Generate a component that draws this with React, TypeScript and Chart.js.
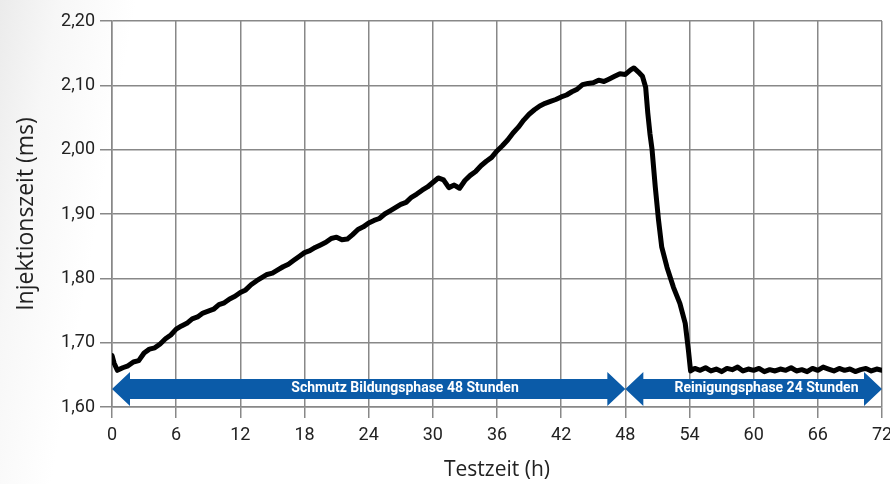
import React, { useEffect, useRef } from "react";
import { Chart, registerables } from "chart.js";

Chart.register(...registerables);

// Test time (h)
const hours: number[] = [
  0, 0.2, 0.5, 1, 1.5, 2, 2.5, 3, 3.5, 4, 4.5, 5, 5.5, 6, 6.5, 7, 7.5, 8, 8.5, 9, 9.5,
  10, 10.5, 11, 11.5, 12, 12.5, 13, 13.5, 14, 14.5, 15, 15.5, 16, 16.5, 17, 17.5, 18, 18.5, 19, 19.5,
  20, 20.5, 21, 21.5, 22, 22.5, 23, 23.5, 24, 24.5, 25, 25.5, 26, 26.5, 27, 27.5, 28, 28.5, 29, 29.5,
  30, 30.5, 31, 31.5, 32, 32.5, 33, 33.5, 34, 34.5, 35, 35.5, 36, 36.5, 37, 37.5, 38, 38.5, 39, 39.5,
  40, 40.5, 41, 41.5, 42, 42.5, 43, 43.5, 44, 44.5, 45, 45.5, 46, 46.5, 47, 47.5, 48, 48.5, 48.8,
  49.2, 49.6, 49.9, 50.1, 50.3, 50.5, 50.8, 51.1, 51.4, 51.9, 52.5, 53.1, 53.6, 53.9, 54.1, 54.5,
  55, 55.5, 56, 56.5, 57, 57.5, 58, 58.5, 59, 59.5, 60, 60.5, 61, 61.5, 62, 62.5, 63, 63.5, 64, 64.5,
  65, 65.5, 66, 66.5, 67, 67.5, 68, 68.5, 69, 69.5, 70, 70.5, 71, 71.5, 72,
];

// Injection time (ms)
const injectionTime: number[] = [
  1.680, 1.668, 1.657, 1.661, 1.664, 1.670, 1.672, 1.684, 1.690, 1.692, 1.698, 1.706, 1.712, 1.721, 1.726, 1.730, 1.737, 1.740, 1.746, 1.749, 1.752,
  1.759, 1.762, 1.768, 1.772, 1.778, 1.782, 1.790, 1.796, 1.801, 1.806, 1.808, 1.813, 1.818, 1.822, 1.828, 1.834, 1.840, 1.843, 1.848, 1.852,
  1.856, 1.862, 1.864, 1.860, 1.861, 1.868, 1.876, 1.880, 1.886, 1.890, 1.893, 1.900, 1.905, 1.910, 1.915, 1.918, 1.926, 1.931, 1.937, 1.942,
  1.949, 1.956, 1.953, 1.941, 1.945, 1.940, 1.952, 1.960, 1.966, 1.975, 1.982, 1.988, 1.998, 2.006, 2.015, 2.026, 2.035, 2.046, 2.055, 2.062,
  2.068, 2.072, 2.075, 2.078, 2.082, 2.085, 2.090, 2.094, 2.101, 2.103, 2.104, 2.108, 2.106, 2.110, 2.114, 2.118, 2.117, 2.124, 2.127,
  2.121, 2.114, 2.097, 2.057, 2.025, 2.000, 1.942, 1.891, 1.849, 1.817, 1.786, 1.761, 1.730, 1.688, 1.656, 1.660,
  1.657, 1.661, 1.656, 1.659, 1.655, 1.660, 1.658, 1.662, 1.656, 1.659, 1.657, 1.660, 1.655, 1.658, 1.656, 1.659, 1.657, 1.661, 1.656, 1.658,
  1.655, 1.660, 1.657, 1.662, 1.659, 1.656, 1.660, 1.657, 1.659, 1.655, 1.658, 1.660, 1.656, 1.659, 1.657,
];

// Phases shown as double arrows
const phaseStart: number[] = [0, 48];
const phaseEnd: number[] = [48, 72];
const phaseLabelAt: number[] = [27.4, 61.2];
const phaseLabels: string[] = ["Schmutz Bildungsphase 48 Stunden", "Reinigungsphase 24 Stunden"];
const phaseLevel = 1.628;

const xTicks = { min: 0, max: 72, step: 6 };
const yTicks = { min: 1.6, max: 2.2, step: 0.1 };

const arrowPlugin = {
  id: "phaseArrows",
  beforeDatasetsDraw(chart: any) {
    const { ctx, scales } = chart;
    const xs = scales.x;
    const ys = scales.y;
    const cy = ys.getPixelForValue(phaseLevel);
    const barH = 10;
    const headH = 17;
    const headL = 18;
    ctx.save();
    ctx.fillStyle = "#0b5ba8";
    for (let i = 0; i < phaseStart.length; i++) {
      const x0 = xs.getPixelForValue(phaseStart[i]);
      const x1 = xs.getPixelForValue(phaseEnd[i]);
      ctx.beginPath();
      ctx.moveTo(x0, cy);
      ctx.lineTo(x0 + headL, cy - headH);
      ctx.lineTo(x0 + headL, cy - barH);
      ctx.lineTo(x1 - headL, cy - barH);
      ctx.lineTo(x1 - headL, cy - headH);
      ctx.lineTo(x1, cy);
      ctx.lineTo(x1 - headL, cy + headH);
      ctx.lineTo(x1 - headL, cy + barH);
      ctx.lineTo(x0 + headL, cy + barH);
      ctx.lineTo(x0 + headL, cy + headH);
      ctx.closePath();
      ctx.fill();
    }
    ctx.fillStyle = "#ffffff";
    ctx.font = "bold 14px Roboto";
    ctx.textAlign = "center";
    ctx.textBaseline = "middle";
    for (let i = 0; i < phaseLabels.length; i++) {
      ctx.fillText(phaseLabels[i], xs.getPixelForValue(phaseLabelAt[i]), cy);
    }
    ctx.restore();
  },
};

export default function App() {
  const ref = useRef<HTMLCanvasElement | null>(null);

  useEffect(() => {
    if (!ref.current) return;
    const data = hours.map((h, i) => ({ x: h, y: injectionTime[i] }));
    const chart = new Chart(ref.current, {
      type: "line",
      data: {
        datasets: [
          {
            data,
            borderColor: "#000000",
            borderWidth: 5,
            pointRadius: 0,
            tension: 0,
            fill: false,
            borderJoinStyle: "round",
            borderCapStyle: "round",
          },
        ],
      },
      options: {
        responsive: false,
        animation: false,
        layout: { padding: { top: 21, right: 8, left: 0, bottom: 0 } },
        plugins: { legend: { display: false }, tooltip: { enabled: false } },
        scales: {
          x: {
            type: "linear",
            min: xTicks.min,
            max: xTicks.max,
            ticks: {
              stepSize: xTicks.step,
              color: "#222",
              font: { family: "Roboto", size: 18 },
              padding: 7,
              maxRotation: 0,
            },
            grid: { color: "#888", lineWidth: 1.5, tickLength: 11, tickColor: "#888" },
            border: { color: "#888", width: 1.5 },
            title: {
              display: true,
              text: "Testzeit (h)",
              color: "#222",
              font: { family: "Open Sans", size: 21 },
              padding: { top: 0, bottom: 1 },
            },
            afterFit(scale: any) {
              scale.height = 77;
              scale.paddingLeft = 0;
              scale.paddingRight = 0;
            },
          },
          y: {
            min: yTicks.min,
            max: yTicks.max,
            ticks: {
              stepSize: yTicks.step,
              color: "#222",
              font: { family: "Roboto", size: 18 },
              padding: 5,
              callback: (v: any) => Number(v).toFixed(2).replace(".", ","),
            },
            grid: { color: "#888", lineWidth: 1.5, tickLength: 12, tickColor: "#888" },
            border: { color: "#888", width: 1.5 },
            title: {
              display: true,
              text: "Injektionszeit (ms)",
              color: "#222",
              font: { family: "Open Sans", size: 23 },
              padding: { top: 13, bottom: 0 },
            },
            afterFit(scale: any) {
              scale.width = 112;
              scale.paddingTop = 0;
              scale.paddingBottom = 0;
            },
          },
        },
      },
      plugins: [arrowPlugin],
    });
    return () => chart.destroy();
  }, []);

  return (
    <div
      style={{
        position: "fixed",
        left: 0,
        top: 0,
        width: 890,
        height: 484,
        background: "linear-gradient(100deg, #ebebeb 0%, #f7f7f7 6%, #ffffff 14%)",
      }}
    >
      <canvas ref={ref} width={890} height={484} style={{ width: 890, height: 484 }} />
    </div>
  );
}
